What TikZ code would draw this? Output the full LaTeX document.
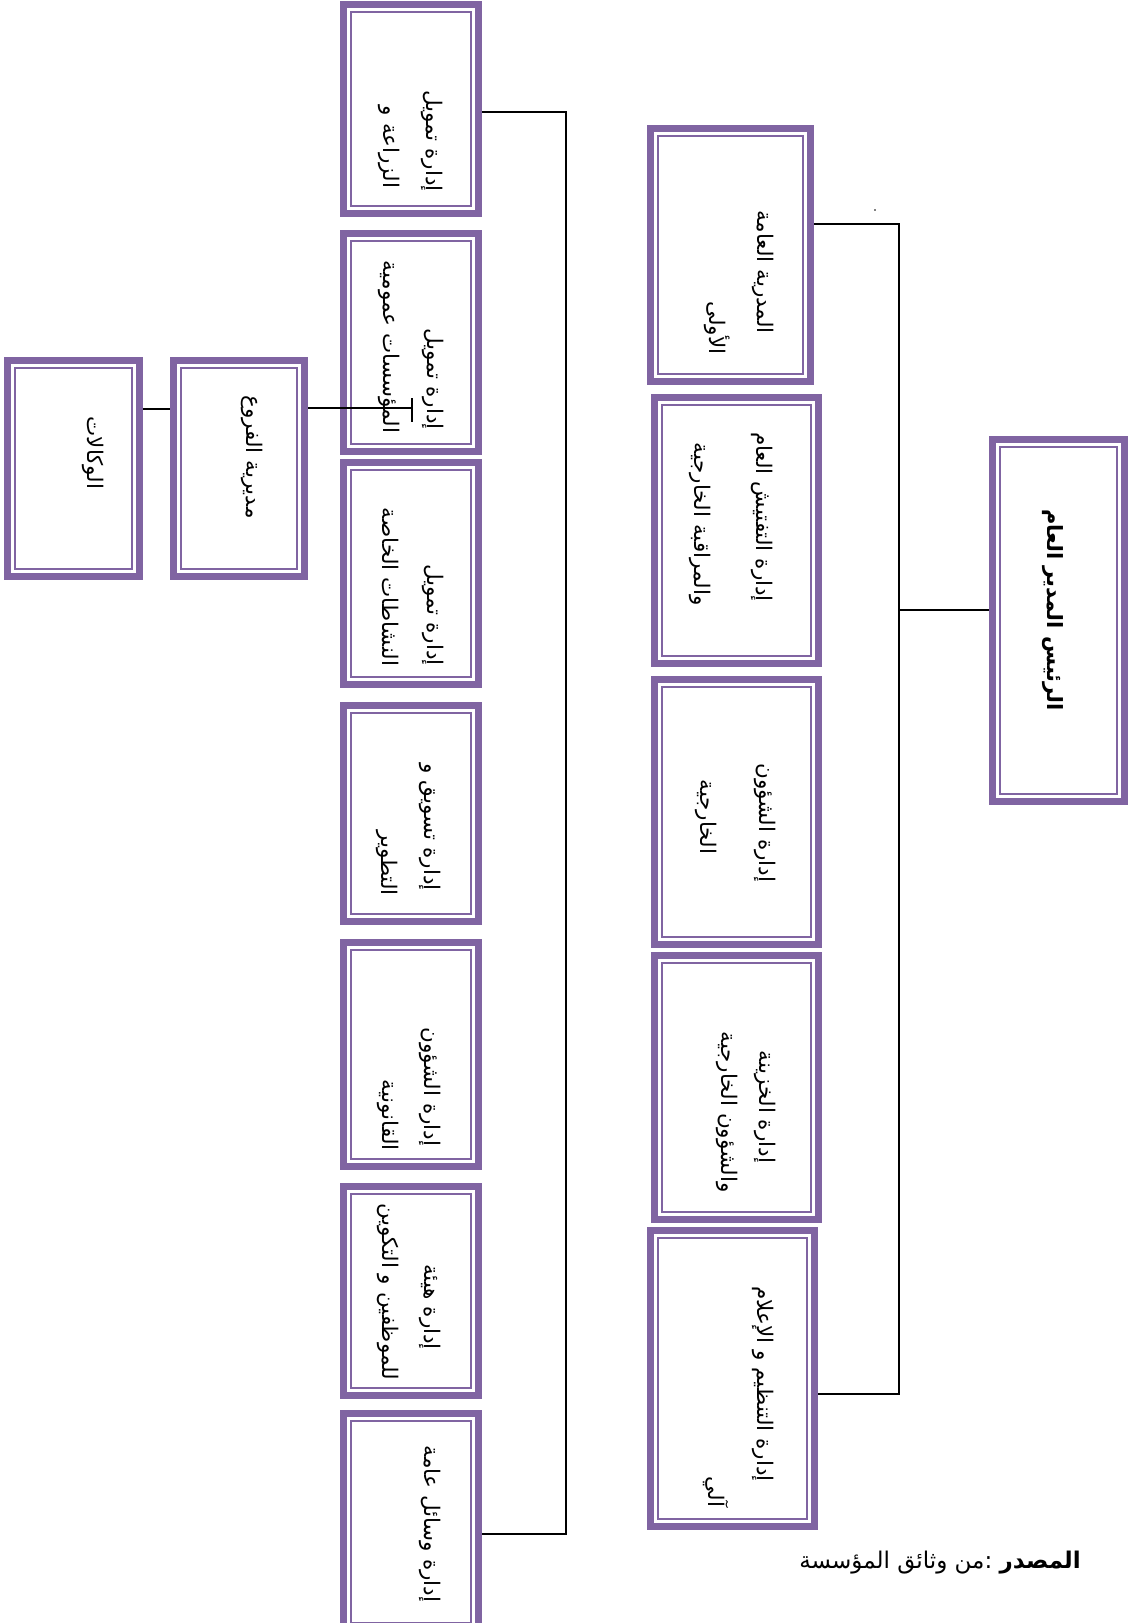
\documentclass[tikz,border=0pt]{standalone}
\usepackage{fontspec}
\usepackage{graphicx}
\TeXXeTstate=1
\newfontfamily\arabicfont[Script=Arabic]{DejaVu Sans}
\definecolor{orgpurple}{HTML}{8064A2}

% framed unit: thick outer band with a thin inner rule
\tikzset{
  orgframe/.style={draw=orgpurple, line width=7.3pt, fill=white, inner sep=0pt,
    path picture={\draw[orgpurple, line width=1.8pt]
      ([xshift=7.4pt,yshift=-7.4pt]path picture bounding box.north west) rectangle
      ([xshift=-7.4pt,yshift=7.4pt]path picture bounding box.south east);}},
  boxtext/.style={rotate=-90, inner sep=0pt, font=\arabicfont\fontsize{21.5}{26}\selectfont},
  titletext/.style={boxtext, font=\arabicfont\bfseries\fontsize{21}{26}\selectfont},
  wire/.style={draw=black, line width=1.2pt},
}

% \orgbox{name}{left}{top}{right}{bottom}
\newcommand{\orgbox}[5]{%
  \node[orgframe, minimum width={#4-#2-7.3}, minimum height={#5-#3-7.3}]
    (#1) at ({(#2+#4)/2},{(#3+#5)/2}) {};}

\begin{document}
\begin{tikzpicture}[x=1pt, y=-1pt]
\useasboundingbox (0,0) rectangle (1141,1623);
\clip (0,0) rectangle (1141,1623);

% top of the hierarchy
\orgbox{ceo}{989}{436}{1128}{805}
\node[titletext] (ceoT) at (1053,610) {\beginR الرئيس المدير العام\endR};

% second level
\orgbox{b1}{647}{125}{814}{385}
\orgbox{b2}{651}{394}{822}{667}
\orgbox{b3}{651}{676}{822}{948}
\orgbox{b4}{651}{952}{822}{1223}
\orgbox{b5}{647}{1227}{818}{1530}

\node[boxtext] (b1a) at (763,272) {\beginR المدرية العامة\endR};
\node[boxtext] (b1b) at (717,328) {\beginR الأولى\endR};
\node[boxtext] (b2a) at (762,517) {\beginR إدارة التفتيش العام\endR};
\node[boxtext] (b2b) at (700,524) {\beginR والمراقبة الخارجية\endR};
\node[boxtext] (b3a) at (765,823) {\beginR إدارة الشؤون\endR};
\node[boxtext] (b3b) at (706,817) {\beginR الخارجية\endR};
\node[boxtext] (b4a) at (765,1107) {\beginR إدارة الخزينة\endR};
\node[boxtext] (b4b) at (727,1112) {\beginR والشؤون الخارجية\endR};
\node[boxtext] (b5a) at (763,1384) {\beginR إدارة التنظيم و الإعلام\endR};
\node[boxtext] (b5b) at (716,1492) {\beginR آلي\endR};

% third level
\orgbox{c1}{340}{1}{482}{217}
\orgbox{c2}{340}{230}{482}{455}
\orgbox{c3}{340}{459}{482}{688}
\orgbox{c4}{340}{702}{482}{925}
\orgbox{c5}{340}{939}{482}{1170}
\orgbox{c6}{340}{1183}{482}{1399}
\orgbox{c7}{340}{1410}{482}{1634}

\node[boxtext] (c1a) at (432,141) {\beginR إدارة تمويل\endR};
\node[boxtext] (c1b) at (389,147) {\beginR الزراعة و\endR};
\node[boxtext] (c2a) at (433,379) {\beginR إدارة تمويل\endR};
\node[boxtext] (c2b) at (389,347) {\beginR المؤسسات عمومية\endR};
\node[boxtext] (c3a) at (433,615) {\beginR إدارة تمويل\endR};
\node[boxtext] (c3b) at (391,587) {\beginR النشاطات الخاصة\endR};
\node[boxtext] (c4a) at (430,827) {\beginR إدارة تسويق و\endR};
\node[boxtext] (c4b) at (387,863) {\beginR التطوير\endR};
\node[boxtext] (c5a) at (430,1087) {\beginR إدارة الشؤون\endR};
\node[boxtext] (c5b) at (388,1115) {\beginR القانونية\endR};
\node[boxtext] (c6a) at (430,1307) {\beginR إدارة هيئة\endR};
\node[boxtext] (c6b) at (388,1292) {\beginR للموظفين و التكوين\endR};
\node[boxtext] (c7a) at (430,1524) {\beginR إدارة وسائل عامة\endR};

% branches
\orgbox{br}{170}{357}{308}{580}
\orgbox{ag}{4}{357}{143}{580}
\node[boxtext] (brT) at (252,457) {\beginR مديرية الفروع\endR};
\node[boxtext] (agT) at (93,453) {\beginR الوكالات\endR};

% connectors
\coordinate (j2top) at (899,224);
\coordinate (j2mid) at (899,610);
\coordinate (j2bot) at (899,1394);
\draw[wire] (b1.east |- j2top) -- (j2top) -- (j2bot) -- (b5.east |- j2bot);
\draw[wire] (ceo.west |- j2mid) -- (j2mid);

\coordinate (j3top) at (566,112);
\coordinate (j3bot) at (566,1534);
\draw[wire] (c1.east |- j3top) -- (j3top) -- (j3bot) -- (c7.east |- j3bot);

\coordinate (jb) at (0,409);
\draw[wire] (ag.east |- jb) -- (br.west |- jb);
\coordinate (tk) at (412,408);
\coordinate (tkA) at (412,398);
\coordinate (tkB) at (412,422);
\draw[wire] (br.east |- tk) -- (tk);
\draw[wire] (tkA) -- (tkB);

% stray mark
\node[circle, fill=black, inner sep=0pt, minimum size=1.6pt] (dot) at (875,210) {};

% source line
\node[inner sep=0pt, font=\arabicfont\fontsize{23}{28}\selectfont] (src) at (940,1563)
  {\beginR{\bfseries المصدر} :من وثائق المؤسسة\endR};
\end{tikzpicture}
\end{document}
